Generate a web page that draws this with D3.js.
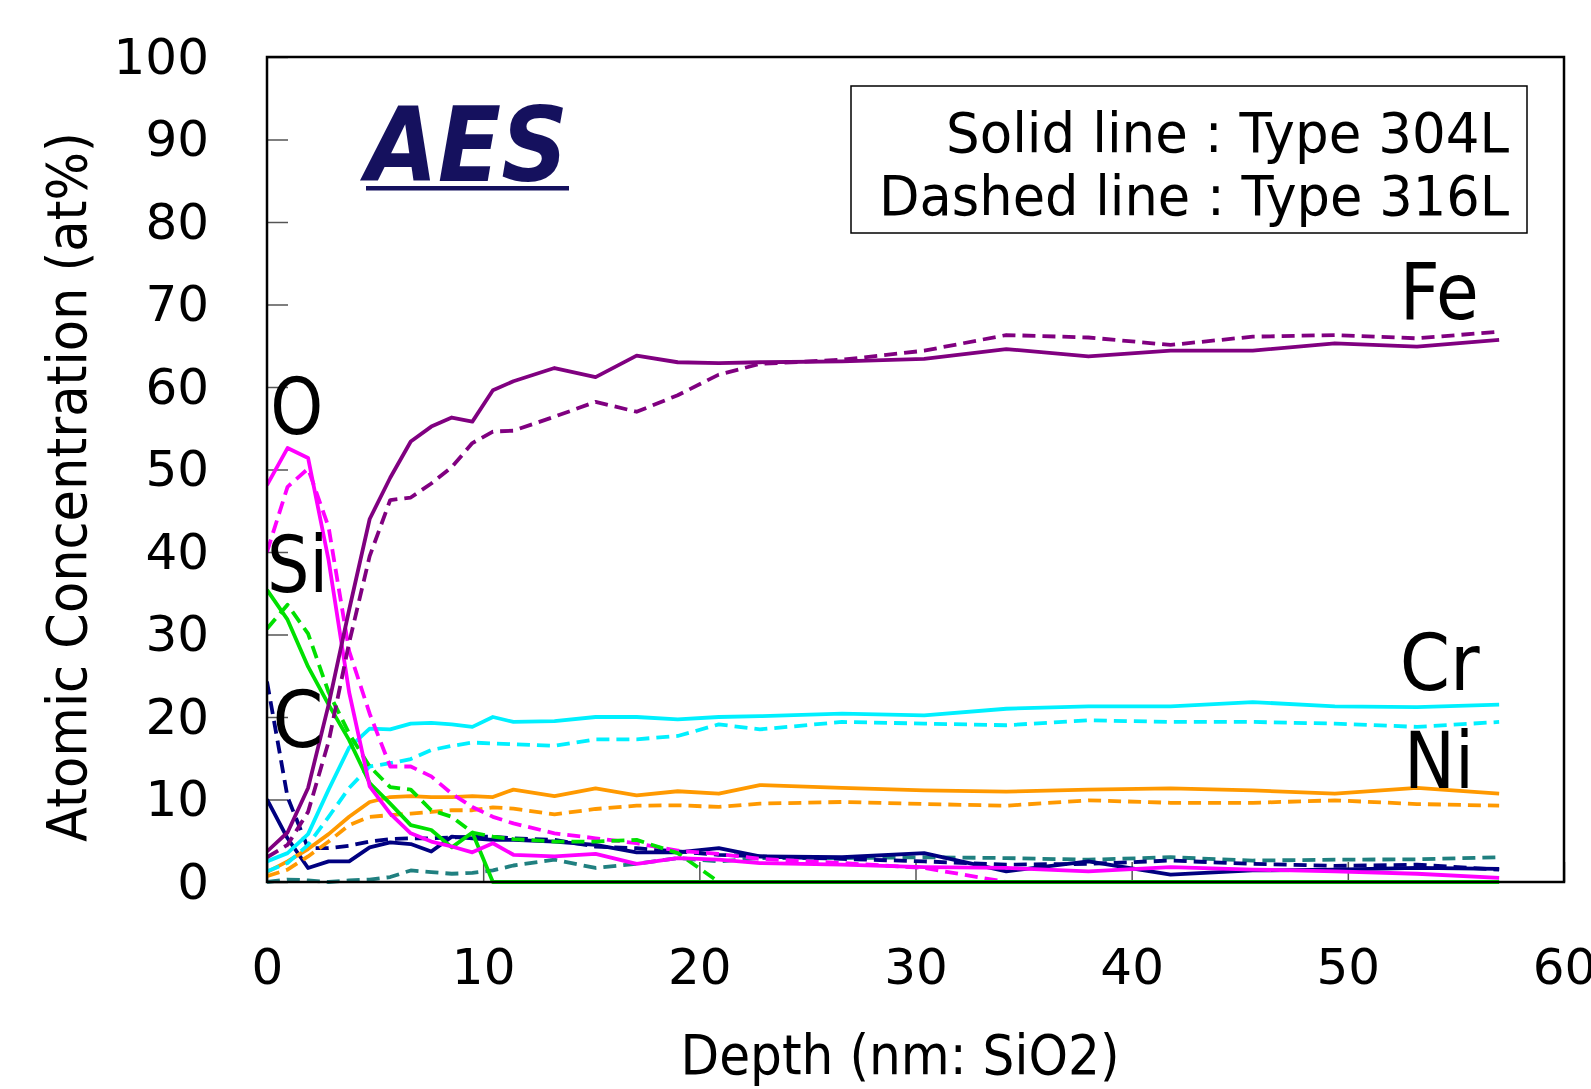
<!DOCTYPE html>
<html>
<head>
<meta charset="utf-8">
<script src="https://cdn.jsdelivr.net/npm/d3@7"></script>
<style>
  html, body { margin: 0; padding: 0; background: #fff; }
  svg { display: block; }
  text { font-family: "DejaVu Sans", Verdana, sans-serif; }
</style>
</head>
<body>
<svg id="chart" width="1591" height="1089"></svg>
<script>
// ---- data (depth in nm SiO2, concentrations in at%) ----
const depth = [0, 0.95, 1.9, 2.85, 3.8, 4.75, 5.7, 6.65, 7.6, 8.55, 9.5, 10.45, 11.4,
               13.3, 15.2, 17.1, 19.0, 20.9, 22.8, 26.6, 30.4, 34.2, 38.0, 41.8, 45.6, 49.4, 53.2, 57.0];

// Solid line : Type 304L
const fe304 = [3.7, 6.0, 11.4, 21.5, 33.0, 44.0, 49.0, 53.4, 55.2, 56.3, 55.8, 59.6, 60.7,
               62.3, 61.2, 63.8, 63.0, 62.9, 63.0, 63.1, 63.4, 64.6, 63.7, 64.4, 64.4, 65.3, 64.9, 65.7];
const o304  = [48.1, 52.6, 51.4, 39.0, 23.0, 11.6, 8.3, 5.9, 4.9, 4.3, 3.6, 4.7, 3.3,
               3.1, 3.4, 2.2, 2.9, 2.7, 2.3, 2.1, 1.8, 1.7, 1.3, 1.8, 1.5, 1.3, 1.0, 0.5];
const si304 = [35.4, 31.8, 26.1, 21.5, 17.2, 12.0, 9.5, 6.9, 6.3, 4.2, 6.0, 0, 0,
               0, 0, 0, 0, 0, 0, 0, 0, 0, 0, 0, 0, 0, 0, 0];
const cr304 = [2.5, 3.5, 5.8, 11.2, 16.3, 18.6, 18.5, 19.2, 19.3, 19.1, 18.8, 20.0, 19.4,
               19.5, 20.0, 20.0, 19.7, 20.0, 20.1, 20.4, 20.2, 21.0, 21.3, 21.3, 21.8, 21.3, 21.2, 21.5];
const ni304 = [1.2, 2.5, 4.0, 5.8, 7.9, 9.7, 10.3, 10.4, 10.3, 10.3, 10.4, 10.3, 11.2,
               10.4, 11.35, 10.5, 11.0, 10.7, 11.75, 11.4, 11.1, 10.95, 11.2, 11.35, 11.1, 10.7, 11.4, 10.7];
const c304  = [10.0, 5.3, 1.7, 2.5, 2.5, 4.2, 4.8, 4.6, 3.7, 5.5, 5.3, 5.1, 5.1,
               4.9, 4.5, 3.6, 3.6, 4.1, 3.1, 3.0, 3.5, 1.3, 2.5, 0.9, 1.4, 1.5, 1.7, 1.6];

// Dashed line : Type 316L
const fe316 = [3.0, 4.5, 8.5, 17.0, 29.0, 39.5, 46.3, 46.6, 48.3, 50.3, 53.2, 54.6, 54.7,
               56.4, 58.2, 57.0, 59.0, 61.5, 62.8, 63.3, 64.4, 66.3, 66.0, 65.1, 66.1, 66.3, 65.9, 66.7];
const o316  = [40.0, 47.9, 50.1, 43.0, 28.0, 20.4, 14.0, 14.0, 12.8, 10.7, 9.1, 7.9, 7.1,
               5.9, 5.3, 4.7, 3.8, 3.4, 2.8, 2.3, 1.7, 0, 0, 0, 0, 0, 0, 0];
const si316 = [30.7, 33.6, 30.1, 23.0, 18.0, 14.0, 11.5, 11.2, 8.7, 7.9, 6.0, 5.5, 5.2,
               4.9, 4.9, 5.1, 3.5, 0, 0, 0, 0, 0, 0, 0, 0, 0, 0, 0];
const cr316 = [1.3, 2.3, 4.5, 7.9, 11.4, 14.0, 14.4, 14.9, 16.0, 16.5, 16.9, 16.8, 16.7,
               16.5, 17.3, 17.3, 17.7, 19.1, 18.5, 19.4, 19.2, 19.0, 19.6, 19.4, 19.4, 19.2, 18.8, 19.4];
const ni316 = [0.7, 1.5, 3.1, 4.9, 6.9, 7.9, 8.1, 8.3, 8.5, 8.7, 8.7, 9.05, 8.9,
               8.2, 8.85, 9.25, 9.3, 9.1, 9.5, 9.7, 9.45, 9.25, 9.9, 9.6, 9.6, 9.9, 9.45, 9.25];
const c316  = [24.3, 10.3, 4.1, 4.1, 4.4, 4.9, 5.2, 5.3, 5.3, 5.4, 5.5, 5.5, 5.3,
               5.1, 4.3, 4.1, 3.7, 3.3, 3.1, 2.8, 2.5, 2.1, 2.2, 2.6, 2.2, 1.95, 2.1, 1.5];
const mo316 = [0, 0.3, 0.2, 0, 0.2, 0.3, 0.6, 1.4, 1.2, 1.0, 1.1, 1.4, 2.0,
               2.7, 1.7, 2.2, 2.9, 2.5, 2.9, 2.9, 3.0, 2.9, 2.7, 3.0, 2.6, 2.7, 2.75, 3.0];

const xTicks = [0, 10, 20, 30, 40, 50, 60];
const yTicks = [0, 10, 20, 30, 40, 50, 60, 70, 80, 90, 100];

const series = [
  { name: "Mo316", values: mo316, color: "#208080", dashed: true },
  { name: "C316",  values: c316,  color: "#000080", dashed: true },
  { name: "C304",  values: c304,  color: "#000080", dashed: false },
  { name: "Ni316", values: ni316, color: "#FF9900", dashed: true },
  { name: "Ni304", values: ni304, color: "#FF9900", dashed: false },
  { name: "Cr316", values: cr316, color: "#00F0FF", dashed: true },
  { name: "Cr304", values: cr304, color: "#00F0FF", dashed: false },
  { name: "O316",  values: o316,  color: "#FF00FF", dashed: true },
  { name: "Si304", values: si304, color: "#00E000", dashed: false },
  { name: "Si316", values: si316, color: "#00E000", dashed: true },
  { name: "O304",  values: o304,  color: "#FF00FF", dashed: false },
  { name: "Fe316", values: fe316, color: "#800080", dashed: true },
  { name: "Fe304", values: fe304, color: "#800080", dashed: false }
];

const elementLabels = [
  { text: "Fe", x: 52.4, y: 68.2, len: 79 },
  { text: "Cr", x: 52.4, y: 23.3, len: 80 },
  { text: "Ni", x: 52.6, y: 11.4, len: 70 },
  { text: "O",  x: 0.15, y: 54.3, len: 53 },
  { text: "Si", x: 0.0,  y: 35.2, len: 61 },
  { text: "C",  x: 0.25, y: 16.4, len: 51 }
];

// ---- layout ----
const svg = d3.select("#chart");
const mLeft = 267, mRight = 1564, mTop = 57, mBottom = 882;

const x = d3.scaleLinear().domain([0, 60]).range([mLeft, mRight]);
const y = d3.scaleLinear().domain([0, 100]).range([mBottom, mTop]);

// axes (ticks inward)
const yAxis = svg.append("g")
  .attr("transform", `translate(${mLeft},0)`)
  .call(d3.axisLeft(y).tickValues(yTicks).tickSize(-21).tickPadding(58).tickFormat(d3.format("d")));
const xAxis = svg.append("g")
  .attr("transform", `translate(0,${mBottom})`)
  .call(d3.axisBottom(x).tickValues(xTicks).tickSize(-20).tickPadding(66).tickFormat(d3.format("d")));

[yAxis, xAxis].forEach(g => {
  g.select(".domain").remove();
  g.selectAll(".tick line").attr("stroke", "#555").attr("stroke-width", 1.5);
  g.selectAll(".tick text")
    .attr("fill", "#000")
    .style("font-family", "'DejaVu Sans', Verdana, sans-serif")
    .style("font-size", "50px");
});

// clip for lines
svg.append("clipPath").attr("id", "plotclip")
  .append("rect").attr("x", mLeft).attr("y", mTop).attr("width", mRight - mLeft).attr("height", mBottom - mTop + 2);

const line = d3.line()
  .x((d, i) => x(depth[i]))
  .y(d => y(d));

const lines = svg.append("g").attr("clip-path", "url(#plotclip)");
series.forEach(s => {
  lines.append("path")
    .datum(s.values)
    .attr("fill", "none")
    .attr("stroke", s.color)
    .attr("stroke-width", 3.8)
    .attr("stroke-linejoin", "round")
    .attr("stroke-dasharray", s.dashed ? "13,7" : null)
    .attr("d", line);
});

// frame
svg.append("rect")
  .attr("x", mLeft).attr("y", mTop)
  .attr("width", mRight - mLeft).attr("height", mBottom - mTop)
  .attr("fill", "none").attr("stroke", "#000").attr("stroke-width", 2.5);

// element labels
svg.append("g").selectAll("text").data(elementLabels).join("text")
  .attr("x", d => x(d.x))
  .attr("y", d => y(d.y))
  .attr("textLength", d => d.len)
  .attr("lengthAdjust", "spacingAndGlyphs")
  .style("font-size", "78px")
  .attr("fill", "#000")
  .text(d => d.text);

// AES title
svg.append("text")
  .attr("x", 366).attr("y", 181)
  .attr("textLength", 202).attr("lengthAdjust", "spacingAndGlyphs")
  .style("font-size", "104px").style("font-weight", "bold").style("font-style", "italic")
  .attr("fill", "#15115E")
  .text("AES");
svg.append("rect")
  .attr("x", 366).attr("y", 186).attr("width", 203).attr("height", 4.5)
  .attr("fill", "#15115E");

// legend box
svg.append("rect")
  .attr("x", 851).attr("y", 86).attr("width", 676).attr("height", 147)
  .attr("fill", "#fff").attr("stroke", "#000").attr("stroke-width", 1.5);
const legendLines = [
  { text: "Solid line : Type 304L", y: 152, len: 563 },
  { text: "Dashed line : Type 316L", y: 215, len: 630 }
];
svg.append("g").selectAll("text").data(legendLines).join("text")
  .attr("x", 1509).attr("y", d => d.y)
  .attr("text-anchor", "end")
  .attr("textLength", d => d.len).attr("lengthAdjust", "spacingAndGlyphs")
  .style("font-size", "56px")
  .attr("fill", "#000")
  .text(d => d.text);

// axis titles
svg.append("text")
  .attr("transform", "translate(86,487) rotate(-90)")
  .attr("text-anchor", "middle")
  .attr("textLength", 710).attr("lengthAdjust", "spacingAndGlyphs")
  .style("font-size", "55px")
  .attr("fill", "#000")
  .text("Atomic Concentration (at%)");
svg.append("text")
  .attr("x", 900).attr("y", 1074)
  .attr("text-anchor", "middle")
  .attr("textLength", 439).attr("lengthAdjust", "spacingAndGlyphs")
  .style("font-size", "55px")
  .attr("fill", "#000")
  .text("Depth (nm: SiO2)");
</script>
</body>
</html>
